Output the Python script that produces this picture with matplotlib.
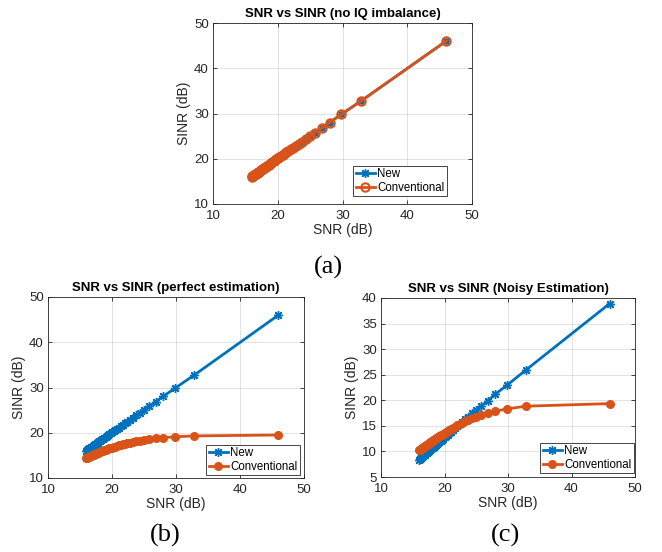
import matplotlib
matplotlib.use('Agg')
import matplotlib.pyplot as plt

plt.rcParams['font.family'] = ['Liberation Sans', 'DejaVu Sans']

# SNR points (dB), same for all three panels
snr = [46.0, 32.8, 29.8, 28.0, 26.8, 25.8, 25.0, 24.35, 23.77, 23.26, 22.8, 22.39, 22.01,
       21.66, 21.34, 21.04, 20.76, 20.5, 20.25, 20.01, 19.79, 19.58, 19.38, 19.18, 19.0,
       18.82, 18.65, 18.49, 18.33, 18.18, 18.03, 17.89, 17.75, 17.61, 17.49, 17.36, 17.24,
       17.12, 17.0, 16.89, 16.78, 16.67, 16.57, 16.47, 16.37, 16.27, 16.17, 16.08, 15.99]

# (a) no IQ imbalance
sinr_a_new = [46.0, 32.7, 29.8, 28.0, 26.8, 25.8, 25.0, 24.35, 23.77, 23.26, 22.8, 22.39, 22.01,
              21.66, 21.34, 21.04, 20.76, 20.5, 20.25, 20.01, 19.79, 19.58, 19.38, 19.18, 19.0,
              18.82, 18.65, 18.49, 18.33, 18.18, 18.03, 17.89, 17.75, 17.61, 17.49, 17.36, 17.24,
              17.12, 17.0, 16.89, 16.78, 16.67, 16.57, 16.47, 16.37, 16.27, 16.17, 16.08, 15.99]
sinr_a_conv = [46.0, 32.7, 29.8, 28.0, 26.8, 25.8, 25.0, 24.4, 23.8, 23.3, 22.85, 22.45, 22.05,
               21.7, 21.4, 21.1, 20.8, 20.55, 20.3, 20.06, 19.84, 19.63, 19.43, 19.23, 19.05,
               18.87, 18.7, 18.54, 18.38, 18.23, 18.08, 17.94, 17.8, 17.66, 17.54, 17.41, 17.29,
               17.17, 17.05, 16.94, 16.83, 16.72, 16.62, 16.52, 16.42, 16.32, 16.22, 16.13, 16.04]

# (b) perfect estimation
sinr_b_new = [46.0, 32.7, 29.8, 28.05, 26.85, 25.85, 25.05, 24.4, 23.82, 23.31, 22.85, 22.44, 22.06,
              21.71, 21.39, 21.09, 20.81, 20.55, 20.3, 20.06, 19.84, 19.63, 19.43, 19.23, 19.05,
              18.87, 18.7, 18.54, 18.38, 18.23, 18.08, 17.94, 17.8, 17.66, 17.54, 17.41, 17.29,
              17.17, 17.05, 16.94, 16.83, 16.72, 16.62, 16.52, 16.42, 16.32, 16.22, 16.13, 16.04]
sinr_b_conv = [19.5, 19.3, 19.1, 18.9, 18.75, 18.6, 18.43, 18.27, 18.12, 17.97, 17.83, 17.7, 17.56,
               17.44, 17.31, 17.19, 17.07, 16.96, 16.85, 16.74, 16.63, 16.53, 16.43, 16.33, 16.23,
               16.14, 16.04, 15.95, 15.86, 15.78, 15.69, 15.61, 15.53, 15.45, 15.37, 15.29, 15.21,
               15.14, 15.06, 14.99, 14.92, 14.85, 14.78, 14.71, 14.65, 14.58, 14.51, 14.45, 14.39]

# (c) noisy estimation
sinr_c_new = [38.9, 25.9, 22.9, 21.2, 19.9, 18.9, 18.15, 17.45, 16.82, 16.27, 15.77, 15.33, 14.91,
              14.54, 14.19, 13.86, 13.56, 13.28, 13.01, 12.75, 12.51, 12.28, 12.06, 11.85, 11.65,
              11.46, 11.27, 11.1, 10.93, 10.76, 10.6, 10.45, 10.3, 10.15, 10.02, 9.87, 9.74,
              9.61, 9.48, 9.37, 9.25, 9.13, 9.02, 8.91, 8.8, 8.69, 8.58, 8.49, 8.39]
sinr_c_conv = [19.35, 18.85, 18.3, 17.86, 17.47, 17.08, 16.8, 16.54, 16.21, 15.9, 15.62, 15.35, 15.1,
               14.85, 14.62, 14.41, 14.2, 14.0, 13.81, 13.63, 13.46, 13.29, 13.13, 12.96, 12.82,
               12.67, 12.54, 12.4, 12.26, 12.14, 12.0, 11.89, 11.76, 11.65, 11.53, 11.43, 11.32,
               11.21, 11.11, 11.01, 10.91, 10.81, 10.72, 10.63, 10.54, 10.45, 10.36, 10.27, 10.19]

titles = ['SNR vs SINR (no IQ imbalance)', 'SNR vs SINR (perfect estimation)',
          'SNR vs SINR (Noisy Estimation)']
captions = ['(a)', '(b)', '(c)']

blue = '#0072BD'
orange = '#D95319'
W, H = 662, 552

fig = plt.figure(figsize=(W / 100, H / 100), dpi=100)

# axes boxes in pixels: left, top, right, bottom
boxes = [(213, 23, 472, 204), (48, 297, 304, 478), (381, 298, 635, 477)]
new_series = [sinr_a_new, sinr_b_new, sinr_c_new]
conv_series = [sinr_a_conv, sinr_b_conv, sinr_c_conv]
ylims = [(10, 50), (10, 50), (5, 40)]
yticks = [[10, 20, 30, 40, 50], [10, 20, 30, 40, 50], [5, 10, 15, 20, 25, 30, 35, 40]]
# legend lower-right corner in pixels
leg_corner = [(447, 196), (300, 475), (634, 473)]
cap_pos = [(328, 267), (165, 535), (505, 535)]

for i in range(3):
    l, t, r, b = boxes[i]
    ax = fig.add_axes([l / W, 1 - b / H, (r - l) / W, (b - t) / H])
    ax.plot(snr, new_series[i], '-', color=blue, lw=2, marker=(8, 2, 0), ms=6.5,
            mew=1.0, label='New', zorder=3)
    if i == 0:
        ax.plot(snr, conv_series[i], '-o', color=orange, lw=2, ms=6, mfc='none',
                mew=1.5, label='Conventional', zorder=4)
    else:
        ax.plot(snr, conv_series[i], '-o', color=orange, lw=2, ms=5.5, mfc=orange,
                label='Conventional', zorder=4)
    ax.set_xlim(10, 50)
    ax.set_ylim(*ylims[i])
    ax.set_xticks([10, 20, 30, 40, 50])
    ax.set_yticks(yticks[i])
    ax.grid(True, color='#262626', alpha=0.15, lw=0.6)
    ax.tick_params(direction='in', length=3, width=0.6, top=True, right=True,
                   labelsize=9.5, colors='#262626', pad=3)
    ax.tick_params(axis='x', pad=4)
    for s in ax.spines.values():
        s.set_color('#262626')
        s.set_linewidth(0.6)
    ax.set_title(titles[i], fontsize=9.5, fontweight='bold', pad=4)
    ax.set_xlabel('SNR (dB)', fontsize=10, color='#262626', labelpad=1)
    ax.set_ylabel('SINR (dB)', fontsize=10, color='#262626', labelpad=2)
    lx, ly = leg_corner[i]
    leg = ax.legend(loc='lower right', bbox_to_anchor=((lx - l) / (r - l), (b - ly) / (b - t)),
                    borderaxespad=0, fontsize=8.3, fancybox=False, edgecolor='#262626',
                    framealpha=1, handlelength=1.7, handletextpad=0.2, borderpad=0.2,
                    labelspacing=0.15)
    leg.get_frame().set_linewidth(0.6)

for (cx, cy), c in zip(cap_pos, captions):
    fig.text(cx / W, 1 - cy / H, c, ha='center', va='center', fontsize=19,
             family='Liberation Serif')

fig.savefig('out.png', dpi=100)
